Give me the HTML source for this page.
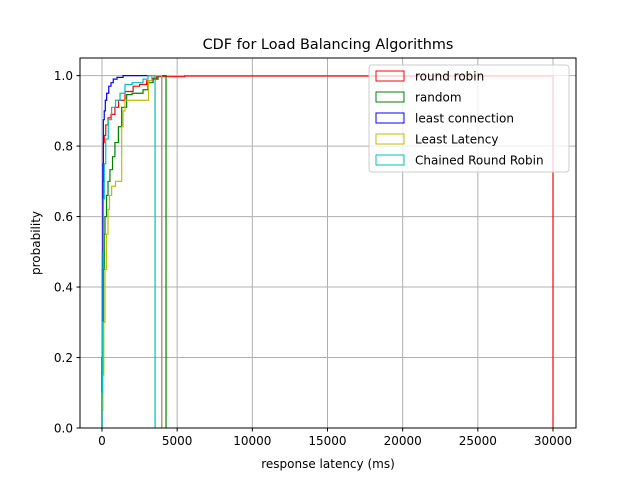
<!DOCTYPE html>
<html><head><meta charset="utf-8"><style>
body{margin:0;background:#fff;}
svg text{font-family:"DejaVu Sans","Liberation Sans",sans-serif;}
</style></head><body>
<svg id="chart" width="640" height="480" xmlns="http://www.w3.org/2000/svg">
<rect width="640" height="480" fill="#fff"/>
<g id="grid"></g>
<g id="series"></g>
<rect x="80" y="58" width="496" height="370" fill="none" stroke="#000" stroke-width="1"/>
<g id="ticks"></g>
<text x="328" y="49" font-size="14.4" text-anchor="middle">CDF for Load Balancing Algorithms</text>
<text x="328" y="468" font-size="12" text-anchor="middle">response latency (ms)</text>
<text x="40" y="243" font-size="12" text-anchor="middle" transform="rotate(-90 40 243)">probability</text>
<g id="legend"></g>
</svg>
<script>
const seriesNames=["round robin","random","least connection","Least Latency","Chained Round Robin"];
const seriesColors=["#ff0000","#008000","#0000ff","#bfbf00","#00bfbf"];
const xTicks=[0,5000,10000,15000,20000,25000,30000];
const yTicks=[0,0.2,0.4,0.6,0.8,1.0];
const rrX=[0,30,60,90,150,250,400,600,860,1100,1530,2070,2500,2970,3300,3640,5500,30000];
const rrY=[0.2,0.45,0.7,0.81,0.83,0.86,0.88,0.89,0.91,0.93,0.955,0.97,0.975,0.985,0.993,0.997,0.999,0.999];
const rndX=[0,50,100,150,200,300,400,530,700,860,1090,1310,1640,2000,2730,3060,3400,3730,4260];
const rndY=[0.1,0.3,0.45,0.55,0.6,0.66,0.7,0.733,0.77,0.81,0.855,0.91,0.946,0.95,0.96,0.98,0.99,1.0,1.0];
const lcX=[0,30,60,90,150,220,310,450,600,750,1000,1400,3970];
const lcY=[0.2,0.5,0.75,0.875,0.9,0.93,0.95,0.97,0.98,0.99,0.995,1.0,1.0];
const llX=[0,60,120,200,300,400,500,640,900,1200,1310,1400,1530,2970,3100,3300,3970];
const llY=[0.05,0.15,0.3,0.45,0.55,0.62,0.66,0.686,0.70,0.70,0.855,0.9,0.93,0.93,0.985,1.0,1.0];
const crX=[0,30,60,100,150,250,420,640,900,1200,1530,2000,2730,3060,3530];
const crY=[0.1,0.3,0.5,0.65,0.75,0.82,0.875,0.91,0.93,0.95,0.975,0.98,0.99,1.0,1.0];
const allX=[rrX,rndX,lcX,llX,crX], allY=[rrY,rndY,lcY,llY,crY];
const NS="http://www.w3.org/2000/svg";
const X0=80,X1=576,Y0=428,Y1=58,XMIN=-1463,XMAX=31530,YMIN=0,YMAX=1.05;
const sx=v=>X0+(v-XMIN)/(XMAX-XMIN)*(X1-X0);
const sy=v=>Y0-(v-YMIN)/(YMAX-YMIN)*(Y0-Y1);
function mk(t,a,p){const e=document.createElementNS(NS,t);for(const k in a)e.setAttribute(k,a[k]);p.appendChild(e);return e;}
const grid=document.getElementById('grid'),ticks=document.getElementById('ticks');
xTicks.forEach(v=>{const x=sx(v);
 const g=mk('line',{x1:x,x2:x,y1:Y1,y2:Y0,stroke:'#b0b0b0','stroke-width':1},grid);
 
 
 const t=mk('line',{x1:x,x2:x,y1:Y0,y2:Y0+3.5,stroke:'#000'},ticks);
 
 
 const l=mk('text',{x:x,y:Y0+17,'font-size':12,'text-anchor':'middle'},ticks);l.textContent=v;
 
 });
yTicks.forEach(v=>{const y=sy(v);
 const g=mk('line',{x1:X0,x2:X1,y1:y,y2:y,stroke:'#b0b0b0','stroke-width':1},grid);
 
 
 const t=mk('line',{x1:X0-3.5,x2:X0,y1:y,y2:y,stroke:'#000'},ticks);
 
 
 const l=mk('text',{x:X0-7,y:y+4.5,'font-size':12,'text-anchor':'end'},ticks);l.textContent=v.toFixed(1);
 
 });
const sg=document.getElementById('series');
allX.forEach((xs,i)=>{
 let d='M'+sx(xs[0])+','+sy(0);
 for(let j=0;j<xs.length;j++){d+=' L'+sx(xs[j])+','+sy(j?allY[i][j-1]:0)+' L'+sx(xs[j])+','+sy(allY[i][j]);}
 d+=' L'+sx(xs[xs.length-1])+','+sy(0);
 const p=mk('path',{d:d,fill:'none',stroke:seriesColors[i],'stroke-width':1.2},sg);
 
 
});
const lg=document.getElementById('legend');
const box=mk('rect',{x:369,y:65,width:200,height:107,rx:3,fill:'#fff','fill-opacity':0.8,stroke:'#ccc'},lg);


seriesNames.forEach((n,i)=>{const y=76+i*21;
 const r=mk('rect',{x:376,y:y-5,width:28,height:10,fill:'none',stroke:seriesColors[i]},lg);
 
 
 const t=mk('text',{x:415,y:y+4.5,'font-size':12},lg);t.textContent=n;
 
 });
</script>
</body></html>
